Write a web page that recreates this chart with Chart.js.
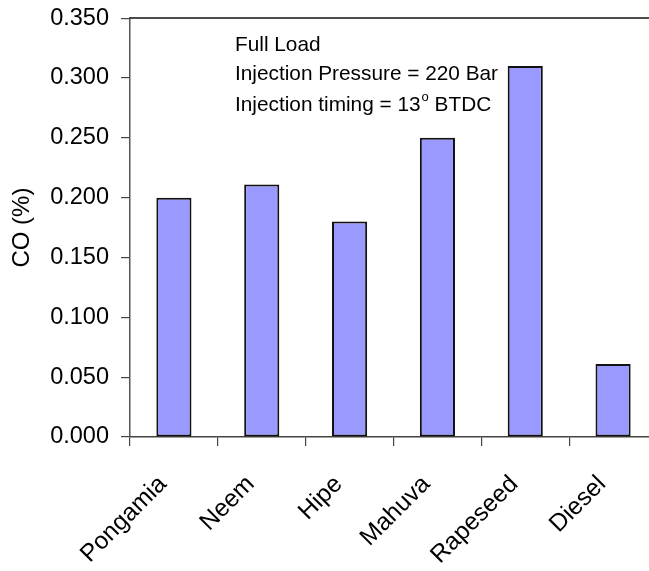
<!DOCTYPE html>
<html>
<head>
<meta charset="utf-8">
<script src="https://cdn.jsdelivr.net/npm/chart.js@4.4.1/dist/chart.umd.min.js"></script>
<style>
html,body{margin:0;padding:0;background:#fff;overflow:hidden;}
#wrap{position:relative;width:665px;height:579px;margin-top:-8px;}
</style>
</head>
<body>
<div id="wrap"><canvas id="c"></canvas></div>
<script>
const categories = ["Pongamia", "Neem", "Hipe", "Mahuva", "Rapeseed", "Diesel"];
const coValues = [0.200, 0.211, 0.180, 0.250, 0.310, 0.061];
const yTicks = [0, 0.05, 0.10, 0.15, 0.20, 0.25, 0.30, 0.35];
const annotationLines = ["Full Load", "Injection Pressure = 220 Bar", "Injection timing = 13"];
const FONT = "'Liberation Sans', Arial, sans-serif";

const extras = {
  id: 'extras',
  afterDraw(chart) {
    const ctx = chart.ctx;
    const a = chart.chartArea;
    ctx.save();
    // top border line
    ctx.strokeStyle = '#111';
    ctx.lineWidth = 1.5;
    ctx.beginPath();
    ctx.moveTo(a.left, a.top);
    ctx.lineTo(a.right + 10, a.top);
    ctx.stroke();
    // annotation (page y + 8 because the canvas is shifted up by 8px)
    ctx.fillStyle = '#000';
    ctx.font = '20.8px ' + FONT;
    ctx.textBaseline = 'middle';
    ctx.textAlign = 'left';
    const x0 = 235;
    const ys = [53, 82, 113];
    annotationLines.forEach((t, i) => ctx.fillText(t, x0, ys[i]));
    const w = ctx.measureText(annotationLines[2]).width;
    ctx.font = '13px ' + FONT;
    ctx.fillText('o', x0 + w + 1, ys[2] - 8);
    const w2 = ctx.measureText('o').width;
    ctx.font = '20.8px ' + FONT;
    ctx.fillText(' BTDC', x0 + w + 1 + w2, ys[2]);
    ctx.restore();
  }
};

new Chart(document.getElementById('c'), {
  type: 'bar',
  data: {
    labels: categories,
    datasets: [{
      data: coValues,
      backgroundColor: '#9999FF',
      borderColor: '#111',
      borderWidth: 2,
      borderSkipped: false,
      categoryPercentage: 1.0,
      barPercentage: 0.40
    }]
  },
  options: {
    responsive: true,
    maintainAspectRatio: false,
    animation: false,
    layout: { padding: { top: 10, right: 8, left: 8, bottom: 0 } },
    plugins: { legend: { display: false }, tooltip: { enabled: false } },
    scales: {
      x: {
        offset: true,
        grid: { offset: true, drawOnChartArea: false, drawTicks: true, tickLength: 9, color: '#444', lineWidth: 1.2 },
        border: { display: true, color: '#444', width: 1.5 },
        ticks: { color: '#000', font: { size: 24.5, family: FONT }, maxRotation: 45, minRotation: 45, padding: 24, labelOffset: -11 },
        afterFit(s) { s.height = 134; }
      },
      y: {
        min: 0, max: 0.35,
        afterBuildTicks(s) { s.ticks = yTicks.map(v => ({ value: v })); },
        grid: { drawOnChartArea: false, drawTicks: true, tickLength: 9, color: '#444', lineWidth: 1.2 },
        border: { display: true, color: '#555', width: 1.5 },
        ticks: { color: '#000', font: { size: 23.5, family: FONT }, padding: 12, callback: v => Number(v).toFixed(3) },
        title: { display: true, text: 'CO (%)', color: '#000', font: { size: 24, family: FONT }, padding: { top: 0, bottom: 4 } },
        afterFit(s) { s.width = 122; }
      }
    }
  },
  plugins: [extras]
});
</script>
</body>
</html>
